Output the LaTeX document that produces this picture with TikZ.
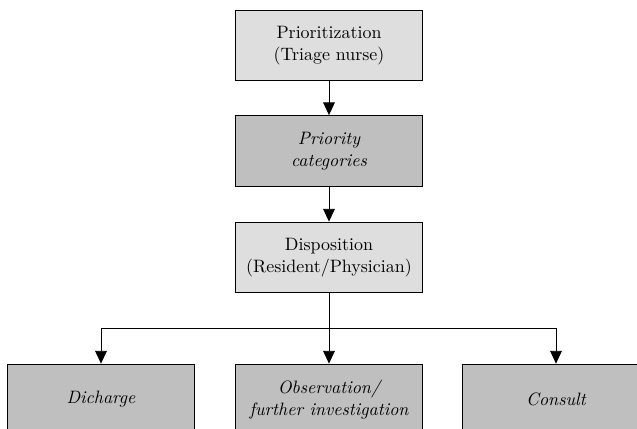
\documentclass[tikz,border=0pt]{standalone}
\usepackage{amsmath, amssymb}
\usepackage{xcolor}
\usetikzlibrary{arrows.meta}

\begin{document}
\begin{tikzpicture}[x=0.0196cm, y=-0.0196cm, line width=0.5pt,
  lightbox/.style={draw=black, fill=black!13, minimum width=3.68cm, minimum height=1.39cm, align=center, inner sep=0pt},
  darkbox/.style={lightbox, fill=black!25, font=\itshape},
  arr/.style={-{Triangle[length=2.5mm, width=2.3mm]}}]
\clip (0,0) rectangle (637,429);
\useasboundingbox (0,0) rectangle (637,429);

\node[lightbox] (prio) at (329, 45.5) {Prioritization\\(Triage nurse)};
\node[darkbox] (cat) at (329, 151) {Priority\\categories};
\node[lightbox] (dispo) at (329, 257.5) {Disposition\\(Resident/Physician)};

\node[darkbox] (dich) at (101, 399.5) {Dicharge};
\node[darkbox] (obs) at (329, 399.5) {Observation/\\further investigation};
\node[darkbox] (cons) at (556, 399.5) {Consult};

\coordinate (split) at (329, 328);

\draw[arr] (prio) -- (cat);
\draw[arr] (cat) -- (dispo);
\draw[arr] (dispo) -- (obs);
\draw[arr] (split) -| (dich.north);
\draw[arr] (split) -| (cons.north);
\end{tikzpicture}
\end{document}
